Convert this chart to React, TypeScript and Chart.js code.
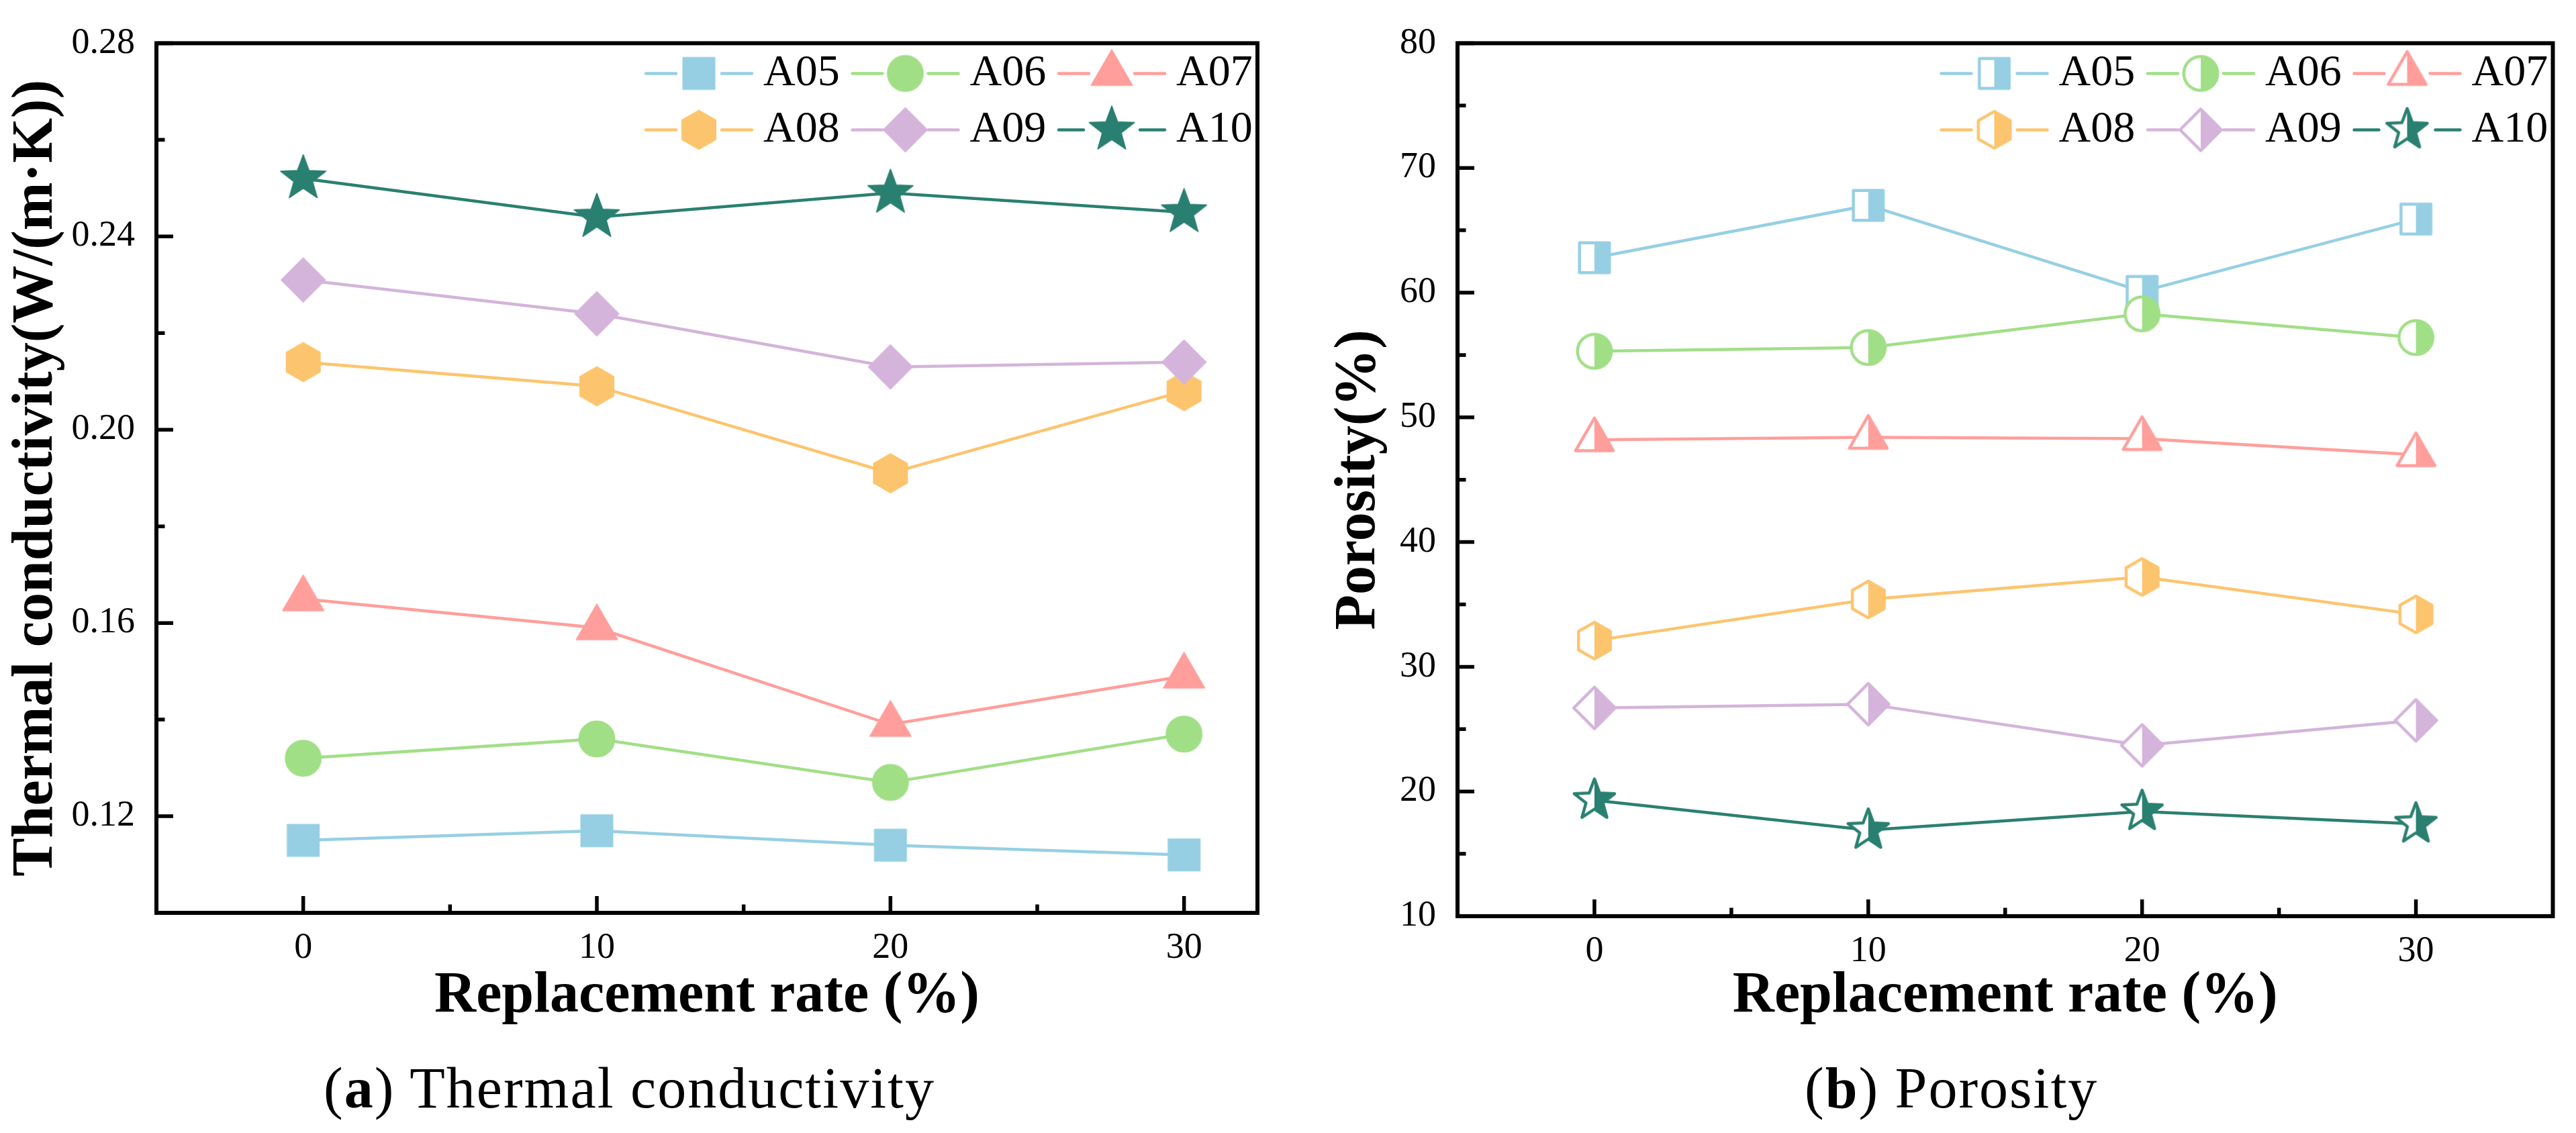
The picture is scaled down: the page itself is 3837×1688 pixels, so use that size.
import React, { useEffect, useRef } from "react";
import { Chart, registerables } from "chart.js";

Chart.register(...registerables);

const FONT = "'Liberation Serif', 'Times New Roman', serif";

// replacement rate (%) on the x axis
const replacementRate = [0, 10, 20, 30];
const xTickValues = [0, 10, 20, 30];

const seriesLabels = ["A05", "A06", "A07", "A08", "A09", "A10"];
const seriesColors = ["#96CFE4", "#A1DF87", "#FF9E9B", "#FDC46E", "#D4B4DA", "#2A8070"];
const seriesMarkers = ["square", "circle", "triangle", "hexagon", "diamond", "star"];

// (a) thermal conductivity, W/(m·K)
const conductivityA05 = [0.115, 0.117, 0.114, 0.112];
const conductivityA06 = [0.132, 0.136, 0.127, 0.137];
const conductivityA07 = [0.165, 0.159, 0.139, 0.149];
const conductivityA08 = [0.214, 0.209, 0.191, 0.208];
const conductivityA09 = [0.231, 0.224, 0.213, 0.214];
const conductivityA10 = [0.252, 0.244, 0.249, 0.245];
const conductivityTicks = [0.12, 0.16, 0.2, 0.24, 0.28];

// (b) porosity, %
const porosityA05 = [62.8, 67.0, 60.1, 65.9];
const porosityA06 = [55.3, 55.6, 58.3, 56.4];
const porosityA07 = [48.2, 48.4, 48.3, 47.0];
const porosityA08 = [32.1, 35.4, 37.2, 34.2];
const porosityA09 = [26.7, 27.0, 23.7, 25.7];
const porosityA10 = [19.3, 16.9, 18.4, 17.4];
const porosityTicks = [10, 20, 30, 40, 50, 60, 70, 80];

const MARK = 90; // marker bitmap size
const LINE_W = 4.5;

function polygon(ctx: CanvasRenderingContext2D, c: number, r: number, n: number) {
  for (let k = 0; k < n; k++) {
    const a = -Math.PI / 2 + (k * 2 * Math.PI) / n;
    const px = c + r * Math.cos(a);
    const py = c + r * Math.sin(a);
    if (k === 0) ctx.moveTo(px, py);
    else ctx.lineTo(px, py);
  }
}

function tracePath(ctx: CanvasRenderingContext2D, shape: string, inset: number) {
  const c = MARK / 2;
  ctx.beginPath();
  switch (shape) {
    case "square": {
      const h = 24.5 - inset;
      ctx.rect(c - h, c - h, 2 * h, 2 * h);
      break;
    }
    case "circle":
      ctx.arc(c, c, 27.5 - inset, 0, Math.PI * 2);
      break;
    case "triangle":
      polygon(ctx, c, 37 - 2 * inset, 3);
      break;
    case "hexagon":
      polygon(ctx, c, 30 - inset / Math.cos(Math.PI / 6), 6);
      break;
    case "diamond":
      polygon(ctx, c, 34 - inset * Math.SQRT2, 4);
      break;
    case "star": {
      const R = 37.5 - 2.6 * inset;
      const r = 15.5 - inset;
      for (let k = 0; k < 10; k++) {
        const a = -Math.PI / 2 + (k * Math.PI) / 5;
        const rr = k % 2 === 0 ? R : r;
        const px = c + rr * Math.cos(a);
        const py = c + rr * Math.sin(a);
        if (k === 0) ctx.moveTo(px, py);
        else ctx.lineTo(px, py);
      }
      break;
    }
  }
  ctx.closePath();
}

// filled marker for (a), half-filled marker for (b)
function makeMarker(shape: string, color: string, half: boolean) {
  const cv = document.createElement("canvas");
  cv.width = MARK;
  cv.height = MARK;
  const ctx = cv.getContext("2d")!;
  ctx.lineJoin = "round";
  if (!half) {
    tracePath(ctx, shape, 0.8);
    ctx.fillStyle = color;
    ctx.fill();
    ctx.strokeStyle = color;
    ctx.lineWidth = 1.6;
    ctx.stroke();
    return cv;
  }
  const lw = 4.5;
  tracePath(ctx, shape, lw / 2);
  ctx.fillStyle = "#fff";
  ctx.fill();
  ctx.save();
  ctx.beginPath();
  ctx.rect(MARK / 2, 0, MARK / 2, MARK);
  ctx.clip();
  tracePath(ctx, shape, lw / 2);
  ctx.fillStyle = color;
  ctx.fill();
  ctx.restore();
  tracePath(ctx, shape, lw / 2);
  ctx.strokeStyle = color;
  ctx.lineWidth = lw;
  ctx.stroke();
  return cv;
}

function minorValues(values: number[], min: number, max: number) {
  const step = values[1] - values[0];
  const out: number[] = [];
  const eps = step * 1e-3;
  [values[0] - step / 2, ...values.map((v) => v + step / 2)].forEach((m) => {
    if (m > min + eps && m < max - eps) out.push(m);
  });
  return out;
}

// box frame with inward major/minor ticks on bottom and left
const framePlugin = {
  id: "frameTicks",
  afterDatasetsDraw(chart: any) {
    const { ctx, chartArea: a, scales } = chart;
    const sx = scales.x;
    const sy = scales.y;
    ctx.save();
    ctx.strokeStyle = "#000";
    ctx.lineWidth = 5.5;
    ctx.lineCap = "butt";
    const xMaj = sx.ticks.map((t: any) => t.value);
    const yMaj = sy.ticks.map((t: any) => t.value);
    ctx.beginPath();
    xMaj.forEach((v: number) => {
      const px = sx.getPixelForValue(v);
      ctx.moveTo(px, a.bottom);
      ctx.lineTo(px, a.bottom - 25);
    });
    minorValues(xMaj, sx.min, sx.max).forEach((v) => {
      const px = sx.getPixelForValue(v);
      ctx.moveTo(px, a.bottom);
      ctx.lineTo(px, a.bottom - 12.5);
    });
    yMaj.forEach((v: number) => {
      const py = sy.getPixelForValue(v);
      ctx.moveTo(a.left, py);
      ctx.lineTo(a.left + 25, py);
    });
    minorValues(yMaj, sy.min, sy.max).forEach((v) => {
      const py = sy.getPixelForValue(v);
      ctx.moveTo(a.left, py);
      ctx.lineTo(a.left + 12.5, py);
    });
    ctx.stroke();
    ctx.lineWidth = 6;
    ctx.lineJoin = "miter";
    ctx.strokeRect(a.left, a.top, a.right - a.left, a.bottom - a.top);
    ctx.restore();
  },
};

// origin-style legend: line - marker - line, label; 3 columns x 2 rows
const legendPlugin = {
  id: "lineMarkerLegend",
  afterDraw(chart: any) {
    const { ctx, chartArea: a } = chart;
    ctx.save();
    chart.data.datasets.forEach((ds: any, i: number) => {
      const col = i % 3;
      const row = Math.floor(i / 3);
      const cx = a.right - 217 - (2 - col) * 307.5;
      const cy = a.top + 45 + row * 84;
      const gap = seriesMarkers[i] === "star" ? 42 : 34;
      ctx.strokeStyle = ds.borderColor;
      ctx.lineWidth = LINE_W;
      ctx.lineCap = "round";
      ctx.beginPath();
      ctx.moveTo(cx - 79, cy);
      ctx.lineTo(cx - gap, cy);
      ctx.moveTo(cx + gap, cy);
      ctx.lineTo(cx + 79, cy);
      ctx.stroke();
      ctx.drawImage(ds.pointStyle, cx - MARK / 2, cy - MARK / 2);
      ctx.fillStyle = "#000";
      ctx.font = `66px ${FONT}`;
      ctx.textAlign = "left";
      ctx.textBaseline = "middle";
      ctx.fillText(ds.label, cx + 96, cy);
    });
    ctx.restore();
  },
};

interface PanelProps {
  series: number[][];
  yMin: number;
  yMax: number;
  yTicks: number[];
  yDecimals: number;
  yTitle: string;
  xMax: number;
  half: boolean;
  left: number;
  width: number;
  padRight: number;
  padTop: number;
  yWidth: number;
  xHeight: number;
  yTitlePad: number;
}

const Panel: React.FC<PanelProps> = (p) => {
  const canvasRef = useRef<HTMLCanvasElement | null>(null);
  const chartRef = useRef<Chart | null>(null);

  useEffect(() => {
    if (chartRef.current) chartRef.current.destroy();
    const ctx = canvasRef.current?.getContext("2d");
    if (!ctx) return;

    const datasets = seriesLabels.map((label, i) => ({
      label,
      data: replacementRate.map((x, j) => ({ x, y: p.series[i][j] })),
      borderColor: seriesColors[i],
      backgroundColor: seriesColors[i],
      borderWidth: LINE_W,
      pointStyle: makeMarker(seriesMarkers[i], seriesColors[i], p.half),
      pointRadius: 30,
      pointHoverRadius: 30,
      fill: false,
      tension: 0,
      order: seriesLabels.length - i,
    }));

    chartRef.current = new Chart(ctx, {
      type: "line",
      data: { datasets },
      options: {
        responsive: false,
        animation: false,
        devicePixelRatio: 1,
        events: [],
        layout: { padding: { left: 0, top: p.padTop, right: p.padRight, bottom: 0 } },
        plugins: { legend: { display: false }, tooltip: { enabled: false }, title: { display: false } },
        scales: {
          x: {
            type: "linear",
            min: -5,
            max: p.xMax,
            afterBuildTicks: (s: any) => {
              s.ticks = xTickValues.map((v) => ({ value: v }));
            },
            afterFit: (s: any) => {
              s.height = p.xHeight;
            },
            grid: { display: false, drawTicks: false },
            border: { display: false },
            ticks: {
              color: "#000",
              font: { family: FONT, size: 54 },
              padding: 20,
              maxRotation: 0,
              autoSkip: false,
            },
            title: {
              display: true,
              text: "Replacement rate (%)",
              color: "#000",
              font: { family: FONT, size: 86, weight: "bold" },
              padding: { top: 0, bottom: 152 },
            },
          },
          y: {
            type: "linear",
            min: p.yMin,
            max: p.yMax,
            afterBuildTicks: (s: any) => {
              s.ticks = p.yTicks.map((v) => ({ value: v }));
            },
            afterFit: (s: any) => {
              s.width = p.yWidth;
            },
            grid: { display: false, drawTicks: false },
            border: { display: false },
            ticks: {
              color: "#000",
              font: { family: FONT, size: 54 },
              padding: 32,
              callback: (v: any) => Number(v).toFixed(p.yDecimals),
            },
            title: {
              display: true,
              text: p.yTitle,
              color: "#000",
              font: { family: FONT, size: 86, weight: "bold" },
              padding: { top: p.yTitlePad, bottom: 0 },
            },
          },
        },
      } as any,
      plugins: [framePlugin, legendPlugin],
    });

    return () => {
      if (chartRef.current) chartRef.current.destroy();
      chartRef.current = null;
    };
  }, [p]);

  return (
    <canvas
      ref={canvasRef}
      width={p.width}
      height={1688}
      style={{ position: "absolute", left: p.left, top: 0, width: p.width, height: 1688 }}
    ></canvas>
  );
};

const captionStyle: React.CSSProperties = {
  position: "absolute",
  top: 1578,
  fontFamily: FONT,
  fontSize: 86,
  lineHeight: "86px",
  letterSpacing: 2,
  whiteSpace: "nowrap",
  color: "#000",
};

const panelA: PanelProps = {
  series: [conductivityA05, conductivityA06, conductivityA07, conductivityA08, conductivityA09, conductivityA10],
  yMin: 0.1,
  yMax: 0.28,
  yTicks: conductivityTicks,
  yDecimals: 2,
  yTitle: "Thermal conductivity(W/(m·K))",
  xMax: 32.5,
  half: false,
  left: 0,
  width: 1918,
  padRight: 45,
  padTop: 38,
  yWidth: 233,
  xHeight: 328,
  yTitlePad: 3.5,
};

const panelB: PanelProps = {
  series: [porosityA05, porosityA06, porosityA07, porosityA08, porosityA09, porosityA10],
  yMin: 10,
  yMax: 80,
  yTicks: porosityTicks,
  yDecimals: 0,
  yTitle: "Porosity(%)",
  xMax: 35,
  half: true,
  left: 1918,
  width: 1919,
  padRight: 20,
  padTop: 39,
  yWidth: 253,
  xHeight: 323,
  yTitlePad: 55,
};

export default function App() {
  return (
    <div
      style={{
        position: "absolute",
        left: 0,
        top: 0,
        width: 3837,
        height: 1688,
        background: "#fff",
        overflow: "hidden",
      }}
    >
      <Panel {...panelA} />
      <Panel {...panelB} />
      <div style={{ ...captionStyle, left: 482 }}>
        (<b>a</b>) Thermal conductivity
      </div>
      <div style={{ ...captionStyle, left: 2688 }}>
        (<b>b</b>) Porosity
      </div>
    </div>
  );
}
